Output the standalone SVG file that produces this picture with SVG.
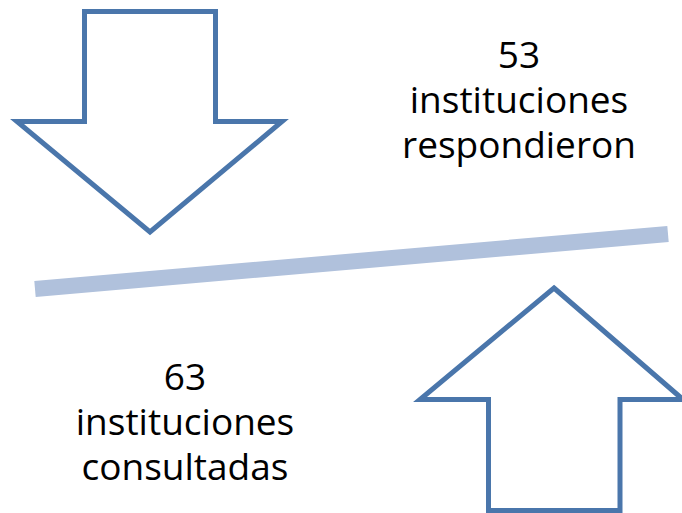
<svg xmlns="http://www.w3.org/2000/svg" width="682" height="513" viewBox="0 0 682 513">
<style>
.arrow{fill:#ffffff;stroke:#4a76ab;stroke-width:5;stroke-linejoin:miter}
.lbl{font-family:"Open Sans","Liberation Sans",sans-serif;font-size:37px;fill:#000000;text-anchor:middle}
</style>
<rect width="682" height="513" fill="#ffffff"/>
<g id="connectors">
<line x1="35" y1="289" x2="668" y2="234" stroke="#b0c1dc" stroke-width="16"/>
</g>
<g id="arrow-down">
<polygon class="arrow" points="84.5,11.5 215.5,11.5 215.5,121.5 282,121.5 150,232 17,121.5 84.5,121.5"/>
</g>
<g id="arrow-up">
<polygon class="arrow" points="554,288 683,399.5 620,399.5 620,510.5 488.5,510.5 488.5,399.5 420,399.5"/>
</g>
<g id="label-responded">
<text class="lbl" x="519" y="68">53</text>
<text class="lbl" x="519" y="113">instituciones</text>
<text class="lbl" x="519" y="158">respondieron</text>
</g>
<g id="label-consulted">
<text class="lbl" x="185" y="390">63</text>
<text class="lbl" x="185" y="435">instituciones</text>
<text class="lbl" x="185" y="480">consultadas</text>
</g>
</svg>
